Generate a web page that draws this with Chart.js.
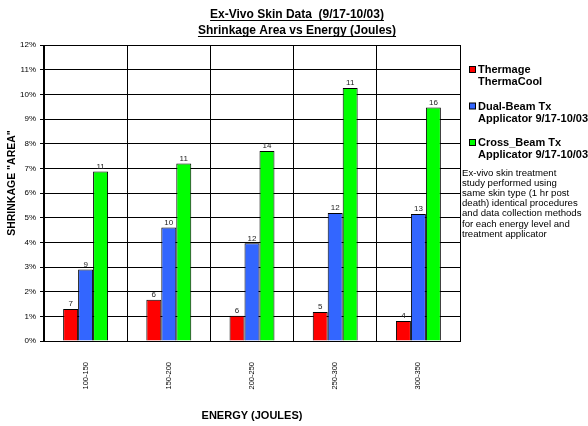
<!DOCTYPE html>
<html>
<head>
<meta charset="utf-8">
<script src="https://cdn.jsdelivr.net/npm/chart.js@4/dist/chart.umd.min.js"></script>
<style>
    html, body { margin: 0; padding: 0; background: #fff; }
    #wrap { width: 588px; height: 426px; position: relative; }
</style>
</head>
<body>
<div id="wrap"><canvas id="c"></canvas></div>
<script>
// 데이터 (그림에서 읽은 값, %)
const categories = ['100-150', '150-200', '200-250', '250-300', '300-350'];
const seriesNames = [
    ['Thermage', 'ThermaCool'],
    ['Dual-Beam Tx', 'Applicator 9/17-10/03'],
    ['Cross_Beam Tx', 'Applicator 9/17-10/03']
];
const seriesColors = ['#ff0000', '#3366ff', '#00ff00'];
const thermage = [1.3, 1.67, 1.02, 1.18, 0.81];
const dualBeam = [2.9, 4.6, 3.96, 5.19, 5.15];
const crossBeam = [6.87, 7.2, 7.7, 10.26, 9.47];
// 막대 위 숫자 (샘플 수)
const thermageN = [7, 6, 6, 5, 4];
const dualBeamN = [9, 10, 12, 12, 13];
const crossBeamN = [11, 11, 14, 11, 16];
const yMax = 12;
const titleLines = ['Ex-Vivo Skin Data  (9/17-10/03)', 'Shrinkage Area vs Energy (Joules)'];
const xTitle = 'ENERGY (JOULES)';
const yTitle = 'SHRINKAGE "AREA"';
const noteLines = [
    'Ex-vivo skin treatment',
    'study performed using',
    'same skin type (1 hr post',
    'death) identical procedures',
    'and data collection methods',
    'for each energy level and',
    'treatment applicator'
];

const FONT = '"Liberation Sans", Arial, sans-serif';

/** 제목, 범례, 메모, y축 제목, 막대 라벨 */
const decorPlugin = {
    id: 'decor',
    afterDraw(chart) {
        const ctx = chart.ctx;
        ctx.save();
        ctx.fillStyle = '#000';
        ctx.strokeStyle = '#000';

        // 제목 (밑줄)
        ctx.font = 'bold 12px ' + FONT;
        ctx.textAlign = 'center';
        ctx.textBaseline = 'alphabetic';
        titleLines.forEach((t, i) => {
            const y = 18 + i * 16;
            ctx.fillText(t, 297, y);
            const w = ctx.measureText(t).width;
            ctx.fillRect(297 - w / 2, y + 2, w, 1);
        });

        // y축 제목
        ctx.save();
        ctx.translate(12, 183);
        ctx.rotate(-Math.PI / 2);
        ctx.font = 'bold 10.5px ' + FONT;
        ctx.textBaseline = 'middle';
        ctx.fillText(yTitle, 0, 0);
        ctx.restore();

        // 막대 라벨
        ctx.font = '8px ' + FONT;
        ctx.fillStyle = '#222';
        ctx.textAlign = 'center';
        ctx.textBaseline = 'bottom';
        const labels = [thermageN, dualBeamN, crossBeamN];
        chart.data.datasets.forEach((ds, di) => {
            const meta = chart.getDatasetMeta(di);
            meta.data.forEach((bar, i) => {
                ctx.fillText(String(labels[di][i]), bar.x, bar.y - 1);
            });
        });

        // 범례
        ctx.textAlign = 'left';
        ctx.textBaseline = 'middle';
        ctx.font = 'bold 11px ' + FONT;
        seriesNames.forEach((name, i) => {
            const y = 70 + i * 36.5;
            ctx.fillStyle = seriesColors[i];
            ctx.fillRect(469.5, y - 3.5, 6, 6);
            ctx.strokeStyle = '#000';
            ctx.lineWidth = 1;
            ctx.strokeRect(469.5, y - 3.5, 6, 6);
            ctx.fillStyle = '#000';
            name.forEach((line, j) => ctx.fillText(line, 478, y + j * 12));
        });

        // 메모
        ctx.font = '9.6px ' + FONT;
        noteLines.forEach((line, i) => ctx.fillText(line, 462, 173 + i * 10.2));

        ctx.restore();
    }
};

const makeSet = (i, data) => ({
    label: seriesNames[i].join(' '),
    data,
    backgroundColor: seriesColors[i],
    borderColor: '#000',
    borderWidth: 1,
    borderSkipped: 'bottom',
    categoryPercentage: 0.54,
    barPercentage: 1.0
});

new Chart(document.getElementById('c'), {
    type: 'bar',
    data: {
        labels: categories,
        datasets: [makeSet(0, thermage), makeSet(1, dualBeam), makeSet(2, crossBeam)]
    },
    options: {
        responsive: true,
        maintainAspectRatio: false,
        animation: false,
        layout: { padding: { top: 45, right: 128, left: 0, bottom: 0 } },
        plugins: {
            legend: { display: false },
            title: { display: false },
            tooltip: { enabled: false }
        },
        scales: {
            x: {
                grid: { color: '#000', drawTicks: false, offset: true },
                border: { color: '#000' },
                ticks: {
                    color: '#000',
                    font: { family: FONT, size: 7.5 },
                    maxRotation: 90,
                    minRotation: 90,
                    autoSkip: false,
                    padding: 21
                },
                title: {
                    display: true,
                    text: xTitle,
                    color: '#000',
                    font: { family: FONT, size: 11, weight: 'bold' },
                    padding: { top: 0, bottom: 3 }
                },
                afterFit(scale) { scale.height = 85; }
            },
            y: {
                min: 0,
                max: yMax,
                grid: { color: '#000', tickLength: 4, tickColor: '#000' },
                border: { color: '#000' },
                ticks: {
                    stepSize: 1,
                    color: '#000',
                    font: { family: FONT, size: 8 },
                    padding: 4,
                    callback: v => v + '%'
                },
                afterFit(scale) { scale.width = 44; }
            }
        }
    },
    plugins: [decorPlugin]
});
</script>
</body>
</html>
